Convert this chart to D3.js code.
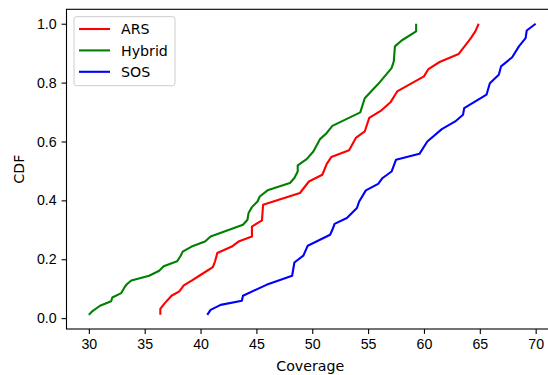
<!DOCTYPE html>
<html lang="en">
<head>
  <meta charset="UTF-8" />
  <title>D3 - CDF chart</title>
  <script src="https://d3js.org/d3.v7.min.js"></script>
  <style type="text/css">
  body { margin: 0; background: #fff; }
  svg {
    display: block;
    font-family: "DejaVu Sans", sans-serif;
  }
  .axis path, .axis line {
    fill: none;
    stroke: #000;
  }
  .axis text { font-size: 14.2px; fill: #000; }
  </style>
</head>
<body>
<div id="chart"></div>

<script type="text/javascript">

// values
const xTicks = [30, 35, 40, 45, 50, 55, 60, 65, 70];
const yTicks = [0.0, 0.2, 0.4, 0.6, 0.8, 1.0];
const seriesNames = ["ARS", "Hybrid", "SOS"];
const seriesColors = ["#ff0000", "#008000", "#0000ff"];

const arsCoverage = [36.4, 36.4, 36.8, 37.4, 38.1, 38.5, 39.2, 40.1, 41.1, 41.3, 41.5, 42.8, 43.4, 44.6, 44.6, 45.5, 45.6, 48.9, 49.7, 50.9, 51.3, 51.7, 53.3, 53.9, 54.7, 55.1, 56.2, 57.0, 57.6, 60.0, 60.4, 61.4, 63.1, 64.2, 64.6, 64.9];
const arsCdf = [0.011, 0.031, 0.051, 0.076, 0.091, 0.111, 0.127, 0.149, 0.173, 0.193, 0.221, 0.243, 0.260, 0.277, 0.311, 0.332, 0.385, 0.425, 0.464, 0.487, 0.524, 0.547, 0.570, 0.612, 0.634, 0.680, 0.706, 0.733, 0.770, 0.821, 0.846, 0.870, 0.897, 0.951, 0.974, 1.0];

const hybridCoverage = [30.0, 30.3, 31.0, 32.0, 32.1, 32.9, 33.2, 33.4, 33.8, 35.4, 36.3, 36.7, 37.9, 38.2, 38.4, 39.2, 40.4, 40.9, 43.8, 44.2, 44.3, 44.6, 45.1, 45.3, 46.0, 48.0, 48.4, 48.7, 48.7, 49.5, 50.1, 50.7, 51.3, 51.8, 54.3, 54.7, 55.2, 55.9, 57.1, 57.3, 57.4, 58.0, 59.3, 59.3];
const hybridCdf = [0.011, 0.023, 0.042, 0.057, 0.070, 0.085, 0.105, 0.115, 0.128, 0.144, 0.161, 0.176, 0.193, 0.210, 0.226, 0.243, 0.260, 0.277, 0.317, 0.334, 0.357, 0.377, 0.396, 0.413, 0.434, 0.459, 0.476, 0.498, 0.519, 0.540, 0.566, 0.608, 0.629, 0.653, 0.699, 0.747, 0.767, 0.795, 0.849, 0.872, 0.923, 0.943, 0.974, 1.0];

const sosCoverage = [40.6, 40.9, 41.8, 43.7, 43.8, 45.9, 48.2, 48.4, 49.2, 49.6, 51.6, 51.8, 52.0, 53.1, 54.0, 54.2, 54.8, 55.9, 56.3, 57.1, 57.5, 59.6, 60.3, 61.6, 62.8, 63.5, 63.6, 65.6, 65.9, 66.7, 66.9, 67.9, 68.5, 69.1, 69.2, 70.0];
const sosCdf = [0.011, 0.028, 0.045, 0.059, 0.076, 0.113, 0.144, 0.189, 0.212, 0.246, 0.283, 0.300, 0.320, 0.340, 0.374, 0.396, 0.434, 0.456, 0.476, 0.498, 0.538, 0.558, 0.600, 0.642, 0.668, 0.691, 0.713, 0.759, 0.798, 0.827, 0.855, 0.886, 0.923, 0.951, 0.977, 1.0];

const series = [
  { name: seriesNames[0], color: seriesColors[0], x: arsCoverage, y: arsCdf },
  { name: seriesNames[1], color: seriesColors[1], x: hybridCoverage, y: hybridCdf },
  { name: seriesNames[2], color: seriesColors[2], x: sosCoverage, y: sosCdf }
];

const width = 548, height = 375;
const margin = { top: 9.3, right: -10, bottom: 46, left: 66.5 };

const x = d3.scaleLinear().domain([28, 72]).range([margin.left, width - margin.right]);
const y = d3.scaleLinear().domain([-0.037, 1.049]).range([height - margin.bottom, margin.top]);

const svg = d3.select("#chart").append("svg")
    .attr("width", width)
    .attr("height", height);

// lines
const line = d3.line().x(d => x(d[0])).y(d => y(d[1]));
svg.append("g")
  .selectAll("path")
  .data(series)
  .join("path")
    .attr("fill", "none")
    .attr("stroke", d => d.color)
    .attr("stroke-width", 2.1)
    .attr("stroke-linejoin", "round")
    .attr("stroke-linecap", "butt")
    .attr("d", d => line(d.x.map((v, i) => [v, d.y[i]])));

// axes
svg.append("g")
    .attr("class", "axis")
    .attr("transform", `translate(0,${y.range()[0]})`)
    .call(d3.axisBottom(x).tickValues(xTicks).tickFormat(d3.format("d")).tickSizeOuter(0).tickSize(4.9).tickPadding(4.9));

svg.append("g")
    .attr("class", "axis")
    .attr("transform", `translate(${margin.left},0)`)
    .call(d3.axisLeft(y).tickValues(yTicks).tickFormat(d3.format(".1f")).tickSizeOuter(0).tickSize(4.9).tickPadding(4.9));

svg.selectAll(".axis line").attr("stroke-width", 1.1);
svg.selectAll(".axis .domain").remove();

// frame
svg.append("rect")
    .attr("x", x.range()[0])
    .attr("y", y.range()[1])
    .attr("width", x.range()[1] - x.range()[0])
    .attr("height", y.range()[0] - y.range()[1])
    .attr("fill", "none")
    .attr("stroke", "#000")
    .attr("stroke-width", 1.1);

// axis labels
svg.append("text")
    .attr("x", (x(28) + x(72)) / 2 - 2)
    .attr("y", 371)
    .attr("text-anchor", "middle")
    .attr("font-size", "14.2px")
    .text("Coverage");

svg.append("text")
    .attr("transform", `translate(24,${(y.range()[0] + y.range()[1]) / 2}) rotate(-90)`)
    .attr("text-anchor", "middle")
    .attr("font-size", "14.2px")
    .text("CDF");

// legend
const legend = svg.append("g").attr("transform", "translate(74,16.7)");
legend.append("rect")
    .attr("width", 101)
    .attr("height", 69)
    .attr("rx", 2.5)
    .attr("fill", "#fff")
    .attr("fill-opacity", 0.8)
    .attr("stroke", "#ccc")
    .attr("stroke-width", 1);

const entry = legend.selectAll("g.entry")
  .data(series)
  .join("g")
    .attr("class", "entry")
    .attr("transform", (d, i) => `translate(0,${12.3 + i * 21.4})`);

entry.append("line")
    .attr("x1", 5).attr("x2", 36)
    .attr("stroke", d => d.color)
    .attr("stroke-width", 2.1);

entry.append("text")
    .attr("x", 47)
    .attr("dy", "0.36em")
    .attr("font-size", "14.2px")
    .text(d => d.name);

</script>
</body>
</html>
